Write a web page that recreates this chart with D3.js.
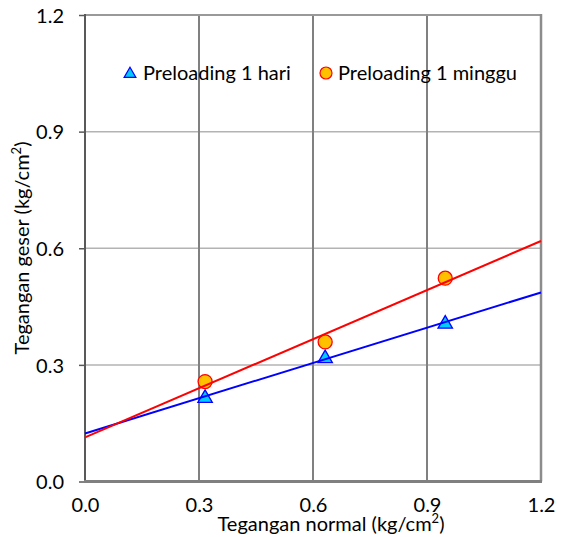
<!DOCTYPE html>
<html>
<head>
<meta charset="utf-8">
<script src="https://cdn.jsdelivr.net/npm/d3@7"></script>
<style>
  body { margin: 0; background: #fff; }
  svg text { font-family: Lato, "Open Sans", sans-serif; fill: #000; }
</style>
</head>
<body>
<svg id="chart" width="562" height="537"></svg>
<script>
// values
const normalStress = [0.316, 0.632, 0.948];
const shear1Hari = [0.217, 0.319, 0.408];
const shear1Minggu = [0.257, 0.359, 0.523];
const tickValues = [0, 0.3, 0.6, 0.9, 1.2];
const seriesNames = ["Preloading 1 hari", "Preloading 1 minggu"];

const svg = d3.select("#chart");
const fontSize = 20;

const x = d3.scaleLinear().domain([0, 1.2]).range([85, 541]);
const y = d3.scaleLinear().domain([0, 1.2]).range([481.5, 15]);

// least squares trendline, like excel does
function fitLine(xs, ys) {
    const mx = d3.mean(xs), my = d3.mean(ys);
    let num = 0, den = 0;
    xs.forEach((v, i) => { num += (v - mx) * (ys[i] - my); den += (v - mx) * (v - mx); });
    const slope = num / den;
    return { slope, intercept: my - slope * mx };
}

// horizontal gridlines (light)
svg.append("g")
    .selectAll("line")
    .data(tickValues.slice(1, -1))
    .enter().append("line")
    .attr("x1", x(0)).attr("x2", x(1.2))
    .attr("y1", d => y(d)).attr("y2", d => y(d))
    .style("stroke", "#b3b3b3")
    .style("stroke-width", 1.5);

// vertical gridlines (darker)
svg.append("g")
    .selectAll("line")
    .data(tickValues.slice(1, -1))
    .enter().append("line")
    .attr("x1", d => x(d)).attr("x2", d => x(d))
    .attr("y1", y(1.2)).attr("y2", y(0))
    .style("stroke", "#808080")
    .style("stroke-width", 2);

// frame: top and right
svg.append("line")
    .attr("x1", x(0)).attr("x2", x(1.2)).attr("y1", y(1.2)).attr("y2", y(1.2))
    .style("stroke", "#999").style("stroke-width", 2);
svg.append("line")
    .attr("x1", x(1.2)).attr("x2", x(1.2)).attr("y1", y(1.2) - 1).attr("y2", y(0))
    .style("stroke", "#8c8c8c").style("stroke-width", 2.5);

// y axis
const yAxis = d3.axisLeft(y).tickValues(tickValues).tickFormat(d3.format(".1f")).tickSize(6).tickPadding(15);
const gy = svg.append("g").attr("transform", `translate(${x(0)},0)`).call(yAxis);
gy.select(".domain").remove();
gy.selectAll(".tick line").style("stroke", "#595959").style("stroke-width", 1.5);
gy.selectAll(".tick text").style("font-size", fontSize + "px").attr("dy", "0.36em");
svg.append("line")
    .attr("x1", x(0)).attr("x2", x(0)).attr("y1", y(1.2) - 1).attr("y2", y(0) + 1)
    .style("stroke", "#595959").style("stroke-width", 2);

// x axis
const xAxis = d3.axisBottom(x).tickValues(tickValues).tickFormat(d3.format(".1f")).tickSize(0).tickPadding(16);
const gx = svg.append("g").attr("transform", `translate(0,${y(0)})`).call(xAxis);
gx.select(".domain").remove();
gx.selectAll(".tick text").style("font-size", fontSize + "px");
svg.append("line")
    .attr("x1", x(0) - 1).attr("x2", x(1.2) + 1).attr("y1", y(0)).attr("y2", y(0))
    .style("stroke", "#808080").style("stroke-width", 3);

// markers
const triangle = d3.symbol().type(d3.symbolTriangle).size(90);
svg.append("g")
    .selectAll("path")
    .data(normalStress.map((v, i) => [v, shear1Hari[i]]))
    .enter().append("path")
    .attr("d", triangle)
    .attr("transform", d => `translate(${x(d[0])},${y(d[1]) + 1})`)
    .style("fill", "#00ccff")
    .style("stroke", "#0000ff")
    .style("stroke-width", 1.3);

svg.append("g")
    .selectAll("circle")
    .data(normalStress.map((v, i) => [v, shear1Minggu[i]]))
    .enter().append("circle")
    .attr("cx", d => x(d[0]))
    .attr("cy", d => y(d[1]))
    .attr("r", 7)
    .style("fill", "#ffc000")
    .style("stroke", "#ff0000")
    .style("stroke-width", 1.3);

// trendlines across the whole x range
[[shear1Hari, "#0000ff"], [shear1Minggu, "#ff0000"]].forEach(([ys, color]) => {
    const f = fitLine(normalStress, ys);
    svg.append("line")
        .attr("x1", x(0)).attr("y1", y(f.intercept))
        .attr("x2", x(1.2)).attr("y2", y(f.intercept + f.slope * 1.2))
        .style("stroke", color)
        .style("stroke-width", 2);
});

// legend
const legend = svg.append("g").attr("transform", "translate(0,73)");
legend.append("path")
    .attr("d", d3.symbol().type(d3.symbolTriangle).size(60))
    .attr("transform", "translate(130,1)")
    .style("fill", "#00ccff").style("stroke", "#0000ff").style("stroke-width", 1.2);
legend.append("text")
    .attr("x", 143).attr("y", 7)
    .style("font-size", fontSize + "px")
    .text(seriesNames[0]);
legend.append("circle")
    .attr("cx", 326).attr("cy", 0).attr("r", 6)
    .style("fill", "#ffc000").style("stroke", "#ff0000").style("stroke-width", 1.2);
legend.append("text")
    .attr("x", 338).attr("y", 7)
    .style("font-size", fontSize + "px")
    .text(seriesNames[1]);

// axis titles
const xTitle = svg.append("text")
    .attr("x", 331).attr("y", 531)
    .attr("text-anchor", "middle")
    .style("font-size", fontSize + "px");
xTitle.append("tspan").text("Tegangan normal (kg/cm");
xTitle.append("tspan").attr("dy", -8).style("font-size", "13px").text("2");
xTitle.append("tspan").attr("dy", 8).text(")");

const yTitle = svg.append("text")
    .attr("transform", "translate(29,248) rotate(-90)")
    .attr("text-anchor", "middle")
    .style("font-size", fontSize + "px");
yTitle.append("tspan").text("Tegangan geser (kg/cm");
yTitle.append("tspan").attr("dy", -8).style("font-size", "13px").text("2");
yTitle.append("tspan").attr("dy", 8).text(")");
</script>
</body>
</html>
